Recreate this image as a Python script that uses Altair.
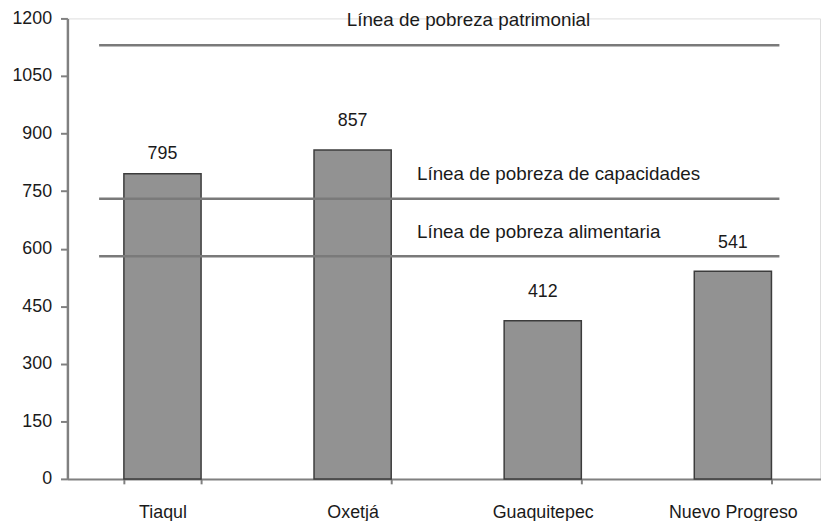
import altair as alt
import pandas as pd

categories = ["Tiaqul", "Oxetjá", "Guaquitepec", "Nuevo Progreso"]
values = [795, 857, 412, 541]

line_names = ["Línea de pobreza patrimonial",
              "Línea de pobreza de capacidades",
              "Línea de pobreza alimentaria"]
line_values = [1130, 730, 580]

y_ticks = [0, 150, 300, 450, 600, 750, 900, 1050, 1200]

FONT = "Liberation Sans"
TXT = "#1a1a1a"

bars_df = pd.DataFrame({"cat": categories, "val": values})
lines_df = pd.DataFrame({"name": line_names, "val": line_values})

x_enc = alt.X(
    "cat:N",
    sort=categories,
    title=None,
    scale=alt.Scale(range=[0, 768], paddingInner=0.594, paddingOuter=0.297),
    axis=alt.Axis(
        labelAngle=0, tickBand="extent", domainColor="#808080", domainWidth=2,
        tickColor="#808080", tickWidth=2, tickSize=5, labelPadding=20,
        labelFontSize=18, labelFont=FONT, labelColor=TXT, grid=False,
    ),
)
y_scale = alt.Scale(domain=[0, 1200], nice=False)
y_enc = alt.Y(
    "val:Q",
    title=None,
    scale=y_scale,
    axis=alt.Axis(
        values=y_ticks, format="d", domainColor="#808080", domainWidth=2.5,
        tickColor="#808080", tickWidth=2, tickSize=7, labelPadding=9,
        labelFontSize=18, labelFont=FONT, labelColor=TXT, grid=False,
    ),
)

base = alt.Chart(bars_df)
bars = base.mark_bar(color="#929292", stroke="#3c3c3c", strokeWidth=1.5).encode(
    x=x_enc, y=y_enc
)
labels_a = base.transform_filter(alt.datum.cat == categories[0]).mark_text(
    font=FONT, fontSize=18, color=TXT, baseline="middle", dy=-20
).encode(x=alt.X("cat:N", sort=categories), y=alt.Y("val:Q", scale=y_scale), text="val:Q")
labels_b = base.transform_filter(alt.datum.cat != categories[0]).mark_text(
    font=FONT, fontSize=18, color=TXT, baseline="middle", dy=-29
).encode(x=alt.X("cat:N", sort=categories), y=alt.Y("val:Q", scale=y_scale), text="val:Q")

lbase = alt.Chart(lines_df)
rules = lbase.mark_rule(color="#7a7a7a", strokeWidth=2.5).encode(
    y=alt.Y("val:Q", scale=y_scale), x=alt.value(32), x2=alt.value(719)
)
ltext_top = lbase.transform_filter(alt.datum.name == line_names[0]).mark_text(
    font=FONT, fontSize=19, color=TXT, align="center", baseline="alphabetic", dy=-19
).encode(y=alt.Y("val:Q", scale=y_scale), x=alt.value(405), text="name:N")
ltext_rest = lbase.transform_filter(alt.datum.name != line_names[0]).mark_text(
    font=FONT, fontSize=19, color=TXT, align="left", baseline="alphabetic", dy=-19
).encode(y=alt.Y("val:Q", scale=y_scale), x=alt.value(353), text="name:N")

chart = alt.layer(bars, labels_a, labels_b, rules, ltext_top, ltext_rest).properties(
    width=760, height=465,
    autosize=alt.AutoSizeParams(type="none"),
    padding={"left": 60, "top": 8, "right": 1, "bottom": 40},
).configure_view(stroke=None).configure(background="white")

chart.save("out.html", embed_options={"renderer": "svg", "actions": False})
